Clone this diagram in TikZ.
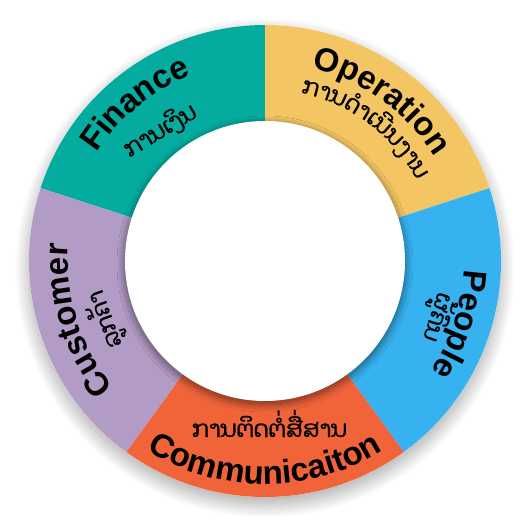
\documentclass[tikz,border=0pt]{standalone}
\usepackage{fontspec}
\setmainfont{Liberation Sans}
\newfontfamily\laofont[Script=Lao,FakeBold=1.2]{Dhyana}
\usetikzlibrary{decorations.text,shadows.blur,calc}

\definecolor{cFin}{RGB}{4,172,160}
\definecolor{cOp}{RGB}{243,197,99}
\definecolor{cPeo}{RGB}{55,178,240}
\definecolor{cCom}{RGB}{241,100,58}
\definecolor{cCus}{RGB}{178,155,197}

\tikzset{
  entext/.style={decorate, decoration={text along path, text align=center,
      text={|\bfseries\fontsize{33}{33}\selectfont|#1}}},
  laotext/.style={decorate, decoration={text along path, text align=center,
      text={|\laofont\fontsize{23}{23}\selectfont|#1}}},
  laonode/.style={font=\laofont\fontsize{23}{23}\selectfont, inner sep=0pt, anchor=base},
}

\begin{document}
\begin{tikzpicture}
\useasboundingbox (0,0) rectangle (529pt,527pt);
\coordinate (C) at (265pt,266pt);

% outer shadow
\fill[white, blur shadow={shadow xshift=0pt, shadow yshift=-7pt,
  shadow blur radius=14pt, shadow blur steps=30, shadow opacity=35}] (C) circle[radius=236pt];

% wedges
\fill[cFin] (C) -- ($(C)+(162:236pt)$) arc[start angle=162,end angle=90,radius=236pt] -- cycle;
\fill[cOp]  (C) -- ($(C)+(90:236pt)$) arc[start angle=90,end angle=18,radius=236pt] -- cycle;
\fill[cPeo] (C) -- ($(C)+(18:236pt)$) arc[start angle=18,end angle=-54,radius=236pt] -- cycle;
\fill[cCom] (C) -- ($(C)+(-54:236pt)$) arc[start angle=-54,end angle=-126,radius=236pt] -- cycle;
\fill[cCus] (C) -- ($(C)+(-126:236pt)$) arc[start angle=-126,end angle=-198,radius=236pt] -- cycle;

% inner disk
\fill[white, blur shadow={shadow xshift=0pt, shadow yshift=-3pt,
  shadow blur radius=8pt, shadow blur steps=24, shadow opacity=55}] (C) circle[radius=140pt];

% English labels
\path[entext=Finance] ($(C)+(169.5:200pt)$) arc[start angle=169.5,end angle=89.5,radius=200pt];
\path[entext=Operation] ($(C)+(94:199pt)$) arc[start angle=94,end angle=14,radius=199pt];
\path[entext=People] ($(C)+(22:199pt)$) arc[start angle=22,end angle=-58,radius=199pt];
\path[entext=Customer] ($(C)+(237.5:197pt)$) arc[start angle=237.5,end angle=157.5,radius=197pt];
\path[entext=Communicaiton] ($(C)+(230:223pt)$) arc[start angle=230,end angle=310,radius=223pt];

% Lao labels
\node[laonode, rotate=31] (finlao) at (164pt,390pt) {ການເງິນ};
\path[laotext={{ກ}{າ}{ນ}{ດຳ}{ເ}{ນີ}{ນ}{ງ}{າ}{ນ}}] ($(C)+(103:172pt)$) arc[start angle=103,end angle=3,radius=172pt];
\node[laonode, rotate=-108] (peolao) at ($(C)+(-18:174pt)$) {ຜູ້ຄົນ};
\node[laonode, rotate=110] (cuslao) at ($(C)+(200:163pt)$) {ລູກຄ້າ};
\node[laonode] (comlao) at (269.5pt,90pt) {ການຕິດຕໍ່ສື່ສານ};
\end{tikzpicture}
\end{document}
